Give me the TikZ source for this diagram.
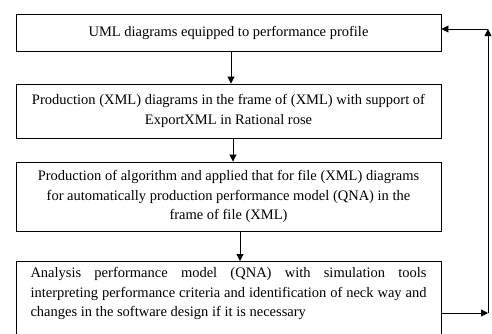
\documentclass[tikz,border=0pt]{standalone}
\usepackage{fontspec}
\setmainfont{Liberation Serif}
\usetikzlibrary{positioning, calc, arrows.meta}

\begin{document}
\begin{tikzpicture}[
    x=1pt,y=-1pt,line width=0.9pt,
    stepbox/.style={draw, rectangle, minimum width=425pt, align=center, font=\fontsize{14.5}{19.5}\selectfont},
    flow/.style={-{Triangle[length=7pt,width=7pt]}}
]
    \useasboundingbox (0,0) rectangle (492,333);

    % --- Steps ---
    \node[stepbox, minimum height=37pt] (uml) at (228.5,32.5) {UML diagrams equipped to performance profile};
    \node[stepbox, minimum height=54pt] (xmlgen) at (228.5,111) {Production (XML) diagrams in the frame of (XML) with support of\\ExportXML in Rational rose};
    \node[stepbox, minimum height=69pt] (qnagen) at (228.5,196.5) {Production of algorithm and applied that for file (XML) diagrams\\for automatically production performance model (QNA) in the\\frame of file (XML)};
    \node[stepbox, anchor=north, align=justify, text width=396pt, inner xsep=14.5pt, inner ysep=6pt, text depth=66pt] (analysis) at (228.5,261) {Analysis performance model (QNA) with simulation tools\linebreak interpreting performance criteria and identification of neck way and\linebreak changes in the software design if it is necessary};

    % --- Flow ---
    \draw[flow] ([xshift=2.5pt]uml.south) -- ([xshift=2.5pt]xmlgen.north);
    \draw[flow] ([xshift=4.5pt]xmlgen.south) -- ([xshift=4.5pt]qnagen.north);
    \draw[flow] ([xshift=11.5pt]qnagen.south) -- ([xshift=11.5pt]analysis.north);

    % --- Feedback ---
    \coordinate (fbr) at (488,313);
    \coordinate (fbt) at (488,29);
    \draw[flow] (analysis.east |- fbr) -- (fbr);
    \draw[flow] (fbr) -- (fbt);
    \draw[flow] (fbt) -- (uml.east |- fbt);

\end{tikzpicture}
\end{document}
